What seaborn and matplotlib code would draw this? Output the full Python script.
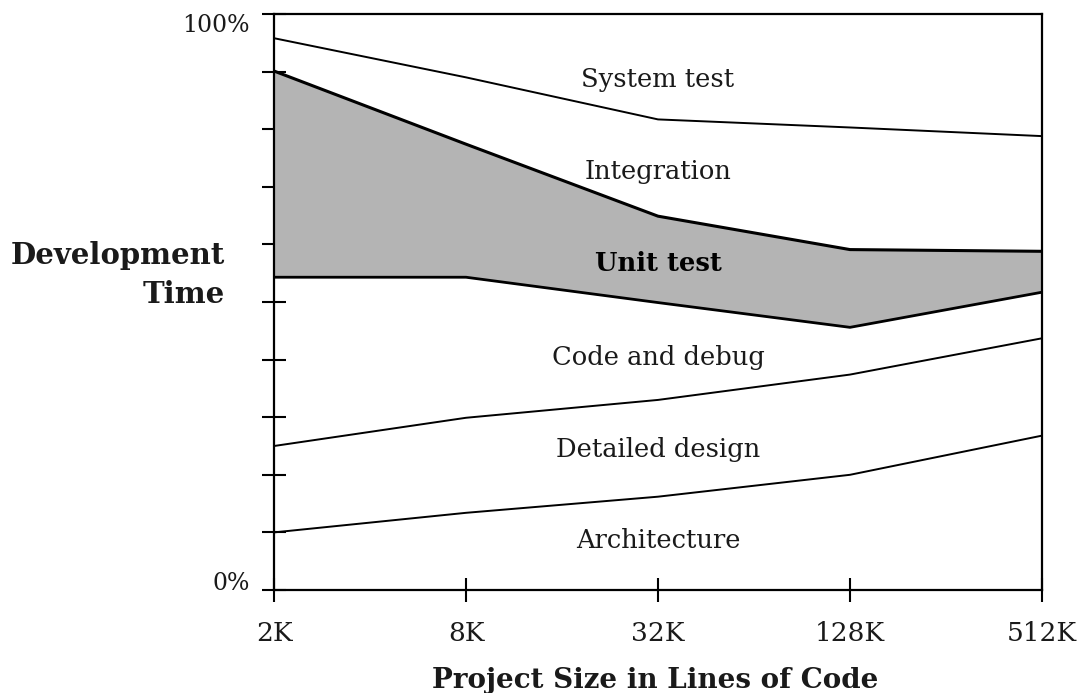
import pandas as pd
import seaborn as sns
import matplotlib.pyplot as plt
import matplotlib.ticker as ticker

# Datos: porcentaje del tiempo de desarrollo por fase, según tamaño del proyecto
sizes_k = [2, 8, 32, 128, 512]
size_labels = ['2K', '8K', '32K', '128K', '512K']
phases = ['Architecture', 'Detailed design', 'Code and debug',
          'Unit test', 'Integration', 'System test']
architecture = [10.0, 13.4, 16.2, 20.0, 26.8]
detailed_design = [15.0, 16.5, 16.8, 17.4, 16.9]
code_and_debug = [29.3, 24.4, 16.9, 8.2, 8.0]
unit_test = [35.8, 23.1, 15.0, 13.5, 7.1]
integration = [5.7, 11.6, 16.8, 21.2, 20.0]
system_test = [4.2, 11.0, 18.3, 19.7, 21.2]

# Posición vertical (línea base) de cada etiqueta de fase
label_y = [7.3, 23.1, 39.1, 55.3, 71.3, 87.3]

shares = pd.DataFrame(
    [architecture, detailed_design, code_and_debug, unit_test, integration, system_test],
    index=phases, columns=sizes_k).T
tops = shares.cumsum(axis=1)
bottoms = tops - shares

sns.set_theme(style='white')
plt.rcParams['font.family'] = ['DejaVu Serif']

fig = plt.figure(figsize=(10.78, 6.93), dpi=100)
ax = fig.add_axes([274 / 1078, 103 / 693, 768 / 1078, 576 / 693])

# Banda sombreada de pruebas unitarias
ax.fill_between(sizes_k, bottoms['Unit test'], tops['Unit test'],
                color='#b4b4b4', lw=0, zorder=1)

# Líneas frontera entre fases
widths = {'Architecture': 1.4, 'Detailed design': 1.4, 'Code and debug': 2.0,
          'Unit test': 2.2, 'Integration': 1.4}
for phase, lw in widths.items():
    sns.lineplot(x=sizes_k, y=tops[phase].values, ax=ax, color='black',
                 linewidth=lw, zorder=3)

# Etiquetas de las fases
for phase, y in zip(phases, label_y):
    bold = phase == 'Unit test'
    ax.text(32, y, phase, ha='center', va='baseline', fontsize=18.5,
            color='black' if bold else '#1a1a1a',
            fontweight='heavy' if bold else 'normal', zorder=4)

# Ejes
ax.set_xscale('log', base=2)
ax.set_xlim(2, 512)
ax.set_ylim(0, 100)
ax.set_xticks(sizes_k)
ax.set_xticklabels(size_labels)
ax.xaxis.set_minor_locator(ticker.NullLocator())
ax.set_yticks(range(0, 101, 10))
ax.set_yticklabels(['0%'] + [''] * 9 + ['100%'])
ax.get_yticklabels()[-1].set_va('top')
ax.get_yticklabels()[0].set_va('baseline')

ax.tick_params(axis='both', direction='inout', length=17, width=1.5,
               color='black', labelcolor='#1a1a1a', bottom=True, left=True)
ax.tick_params(axis='x', labelsize=19, pad=14)
ax.tick_params(axis='y', labelsize=17, pad=9)

for spine in ax.spines.values():
    spine.set_color('black')
    spine.set_linewidth(1.6)

ax.set_xlabel('Project Size in Lines of Code', fontsize=20, fontweight='bold',
              color='#1a1a1a')
ax.xaxis.set_label_coords(0.496, -0.133)

ax.set_ylabel('Development\nTime', fontsize=21, fontweight='bold', rotation=0,
              ha='right', va='baseline', multialignment='right',
              linespacing=1.4, color='#1a1a1a')
ax.yaxis.set_label_coords(-0.064, 0.515)

fig.savefig('out.png', dpi=100)
plt.close(fig)
